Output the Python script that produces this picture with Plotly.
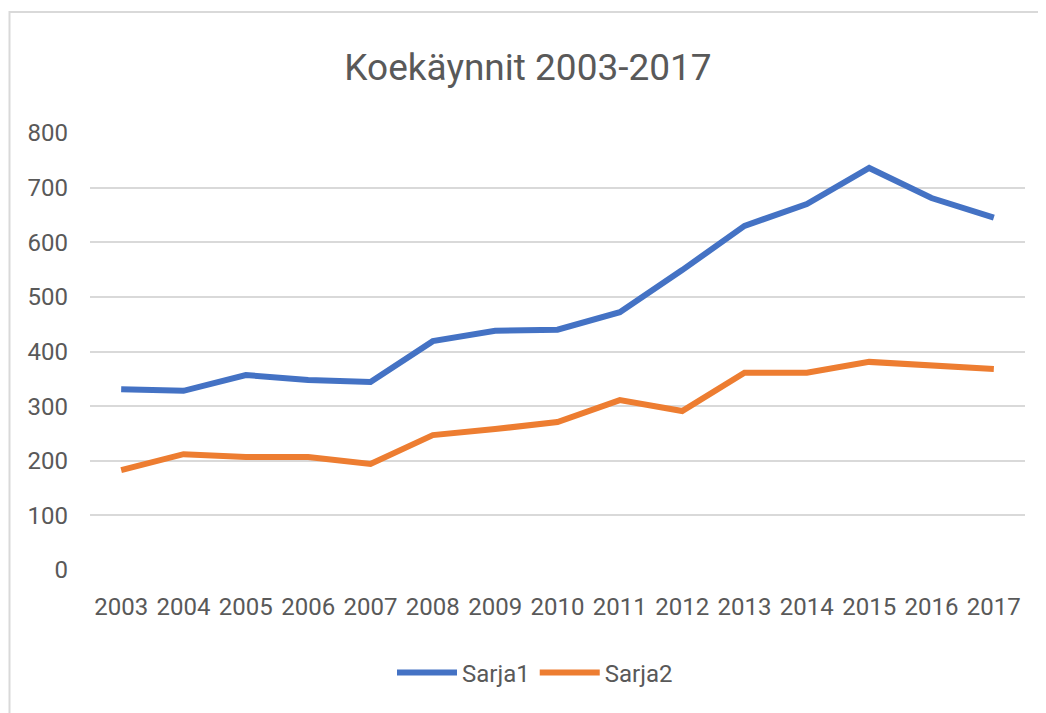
import plotly.graph_objects as go

years = [str(y) for y in range(2003, 2018)]
sarja1 = [331, 328, 357, 348, 344, 419, 438, 440, 472, 549, 630, 670, 736, 681, 645]
sarja2 = [183, 212, 207, 207, 194, 247, 258, 271, 311, 291, 361, 361, 381, 375, 368]
y_ticks = [0, 100, 200, 300, 400, 500, 600, 700, 800]

FONT = "Roboto, Open Sans, sans-serif"
TXT = "#595959"

# page body has an 8px margin; coordinates below are reference pixels minus 8
OFF = 8
W, H = 1046, 713
L, T = 90 - OFF, 133 - OFF
pw, ph = 935, 437
R = W - L - pw
B = H - T - ph

def px_x(px):
    return (px - OFF - L) / pw

def px_y(py):
    return (T + ph - (py - OFF)) / ph

fig = go.Figure()
fig.add_trace(go.Scatter(x=years, y=sarja1, mode="lines", name="Sarja1",
                         line=dict(color="#4472c4", width=6)))
fig.add_trace(go.Scatter(x=years, y=sarja2, mode="lines", name="Sarja2",
                         line=dict(color="#ed7d31", width=6)))

fig.update_layout(
    width=W, height=H,
    margin=dict(l=L, r=R, t=T, b=B, autoexpand=False),
    paper_bgcolor="white", plot_bgcolor="white",
    font=dict(family=FONT, color=TXT, size=24),
    title=dict(text="Koekäynnit 2003-2017", x=(528 - OFF) / W,
               xanchor="center", xref="container",
               y=1 - (67 - OFF) / H, yanchor="middle",
               font=dict(size=37, color=TXT, family=FONT)),
    xaxis=dict(type="category", range=[-0.5, 14.5], showgrid=False,
               showline=False, zeroline=False, ticks="",
               ticklabelstandoff=20, automargin=False,
               tickfont=dict(size=24, color=TXT)),
    yaxis=dict(range=[0, 800], tickvals=y_ticks, showgrid=True,
               gridcolor="#d9d9d9", gridwidth=2, zeroline=False,
               showline=False, ticks="", ticklabelstandoff=21,
               automargin=False,
               tickfont=dict(size=24, color=TXT)),
    legend=dict(orientation="h", x=px_x(535), xanchor="center",
                y=px_y(673), yanchor="middle", itemwidth=60,
                font=dict(size=24, color=TXT, family=FONT)),
    showlegend=True,
)

# chart frame (left edge kept just inside the figure)
fig.add_shape(type="rect", xref="paper", yref="paper",
              x0=px_x(OFF + 1.5), x1=px_x(1070), y0=px_y(740), y1=px_y(12),
              line=dict(color="#d9d9d9", width=2), fillcolor="rgba(0,0,0,0)",
              layer="below")

fig.write_html("out.html")
